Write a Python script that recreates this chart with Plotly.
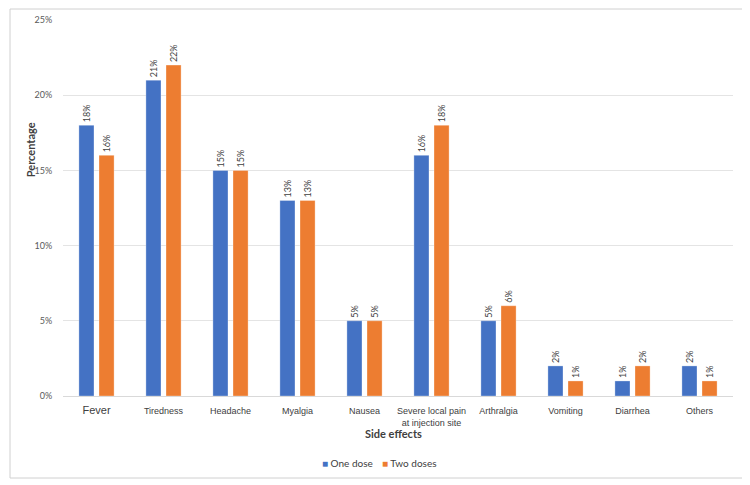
import plotly.graph_objects as go

categories = ["Fever", "Tiredness", "Headache", "Myalgia", "Nausea",
              "Severe local pain<br>at injection site", "Arthralgia",
              "Vomiting", "Diarrhea", "Others"]
one_dose = [18, 21, 15, 13, 5, 16, 5, 2, 1, 2]
two_doses = [16, 22, 15, 13, 5, 18, 6, 1, 2, 1]
y_ticks = [0, 5, 10, 15, 20, 25]
y_tick_labels = ["0%", "5%", "10%", "15%", "20%", "25%"]
series_names = ["One dose", "Two doses"]
series_colors = ["#4472C4", "#ED7D31"]

tick_text = ['<span style="font-size:11px">Fever</span>'] + categories[1:]

fig = go.Figure()
for name, vals, color in zip(series_names, [one_dose, two_doses], series_colors):
    fig.add_trace(go.Bar(
        x=categories, y=vals, name=name,
        marker=dict(color=color, line=dict(color="rgba(255,255,255,0.6)", width=0.5)),
        text=[f"{v}%" for v in vals], textposition="outside", textangle=-90,
        constraintext="none",
        textfont=dict(family="Lato, sans-serif", size=9, color="#404040"),
        cliponaxis=False, showlegend=False,
    ))

# Page body has an 8px default margin: figure is sized/offset to compensate
W, H = 742, 477
fig.update_layout(
    width=W, height=H,
    margin=dict(l=55, r=17, t=12, b=89, pad=0),
    paper_bgcolor="white", plot_bgcolor="white",
    barmode="group", bargap=0.40, bargroupgap=0.25,
    xaxis=dict(tickmode="array", tickvals=categories, ticktext=tick_text,
               tickfont=dict(family="Liberation Sans, Arial, sans-serif", size=9, color="#404040"),
               showline=True, linecolor="#D9D9D9", linewidth=1, ticks="outside",
               ticklen=6, tickcolor="rgba(0,0,0,0)", showgrid=False, automargin=False),
    yaxis=dict(range=[0, 25], tickvals=y_ticks, ticktext=y_tick_labels,
               tickfont=dict(family="Lato, sans-serif", size=9, color="#595959"),
               showgrid=True, gridcolor="#E4E4E4", gridwidth=1, zeroline=False,
               ticks="outside", ticklen=8, tickcolor="rgba(0,0,0,0)", automargin=False),
    annotations=[
        dict(text="<b>Side effects</b>", xref="paper", yref="paper", x=0.493, y=-0.10,
             xanchor="center", yanchor="middle", showarrow=False,
             font=dict(family="Lato, sans-serif", size=11, color="#404040")),
        dict(text="<b>Percentage</b>", xref="paper", yref="paper", x=-0.049, y=0.654,
             xanchor="center", yanchor="middle", textangle=-90, showarrow=False,
             font=dict(family="Lato, sans-serif", size=11, color="#404040")),
        dict(text=f'<span style="color:{series_colors[0]}">■</span> {series_names[0]}',
             xref="paper", yref="paper", x=(320 - 63) / 670, y=(396 - 463) / 376,
             xanchor="left", yanchor="middle", showarrow=False,
             font=dict(family="Lato, sans-serif", size=10, color="#404040")),
        dict(text=f'<span style="color:{series_colors[1]}">■</span> {series_names[1]}',
             xref="paper", yref="paper", x=(380 - 63) / 670, y=(396 - 463) / 376,
             xanchor="left", yanchor="middle", showarrow=False,
             font=dict(family="Lato, sans-serif", size=10, color="#404040")),
    ],
    shapes=[dict(type="rect", xref="paper", yref="paper",
                 x0=(10 - 63) / 670, x1=(745 - 63) / 670,
                 y0=(396 - 478) / 376, y1=(396 - 9) / 376,
                 line=dict(color="#D0D0D0", width=1), fillcolor="rgba(0,0,0,0)", layer="below")],
)

fig.write_html("out.html")
